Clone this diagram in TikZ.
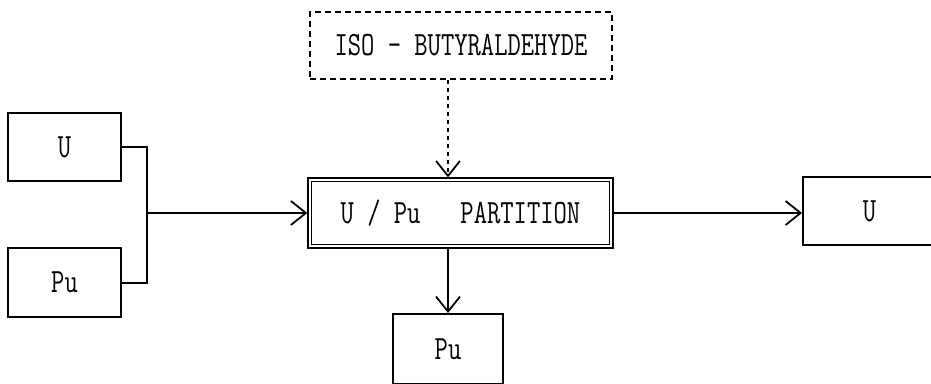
\documentclass[tikz,border=0pt]{standalone}
\usepackage{graphicx}
\usetikzlibrary{positioning,arrows.meta}
\newcommand{\narrowtxt}[1]{\scalebox{0.76}[1]{#1}}

\begin{document}
\begin{tikzpicture}[
  x=1pt, y=-1pt,
  box/.style={
    draw,
    line width=2pt,
    inner sep=0pt,
    font=\fontsize{34}{36}\selectfont\ttfamily
  },
  dbox/.style={box, line width=2pt, dash pattern=on 6pt off 4pt},
  wall/.style={box, line width=1.3pt},
  arrow/.style={-{Straight Barb[length=15pt,width=24pt]}, line width=1.8pt},
  feed/.style={line width=2pt}
]
  \useasboundingbox (0,0) rectangle (931,383);
  \clip (0,0) rectangle (931,383);

  \node[dbox, minimum width=302, minimum height=67] (iso) at (461,45.5) {\narrowtxt{ISO - BUTYRALDEHYDE}};
  \node[wall, minimum width=305, minimum height=70] (part) at (460.5,213) {\narrowtxt{U / Pu\ \ \ PARTITION}};
  \node[box, minimum width=113, minimum height=68] (uin) at (64.5,147) {\narrowtxt{U}};
  \node[box, minimum width=113, minimum height=69] (puin) at (64.5,282.5) {\narrowtxt{Pu}};
  \node[box, minimum width=133, minimum height=68] (uout) at (869.5,211) {\narrowtxt{U}};
  \node[box, minimum width=110, minimum height=70] (puout) at (448,349) {\narrowtxt{Pu}};
  \coordinate (jn) at (147,213);

  % inner line of the partition wall
  \draw[line width=1.1pt] ([shift={(4,4)}]part.north west) rectangle ([shift={(-4,-4)}]part.south east);

  \draw[feed] (uin.east) -| (jn) |- (puin.east);
  \draw[arrow] (jn) -- (part.west);
  \draw[arrow, dash pattern=on 4pt off 4pt] (iso.south -| puout) -- (part.north -| puout);
  \draw[arrow] (part.east) -- (part.east -| uout.west);
  \draw[arrow] (part.south -| puout) -- (puout.north);
\end{tikzpicture}
\end{document}
